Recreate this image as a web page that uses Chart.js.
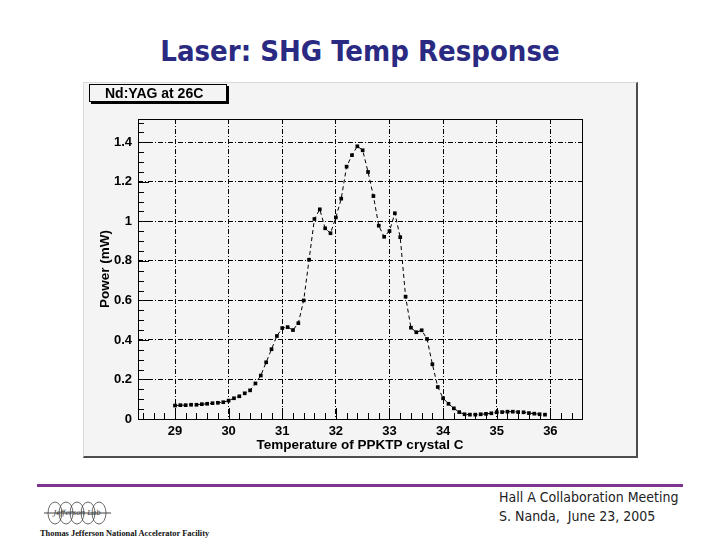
<!DOCTYPE html>
<html>
<head>
<meta charset="utf-8">
<script src="https://cdn.jsdelivr.net/npm/chart.js@4.4.0/dist/chart.umd.min.js"></script>
<style>
  body { margin: 0; width: 720px; height: 540px; background: #fff; position: relative; overflow: hidden; }
  #title { position: absolute; left: 0; top: 35px; width: 720px; text-align: center;
           font: bold 29px "DejaVu Sans Condensed", sans-serif; color: #2a2a82; line-height: 32px; }
  #pad { position: absolute; left: 83px; top: 82px; width: 552px; height: 373px; background: #f4f4f4;
         border-top: 1px solid #d9d9d9; border-left: 1px solid #d9d9d9;
         border-right: 2px solid #4d4d4d; border-bottom: 2px solid #4d4d4d; }
  #pad canvas { position: absolute; left: 0; top: 0; }
  #leg { position: absolute; left: 5px; top: 1px; width: 138px; height: 18px; box-sizing: border-box;
         border: 1px solid #000; box-shadow: 2px 2px 0 #000; background: #f4f4f4;
         font: bold 14px "Liberation Sans", Arial, sans-serif; line-height: 16px; padding-left: 15px; color: #000; }
  #rule { position: absolute; left: 37px; top: 484px; width: 646px; height: 3px; background: #7d3590; }
  #meet { position: absolute; left: 499px; top: 488px; font: 14px "DejaVu Sans Condensed", sans-serif;
          color: #222; line-height: 19px; }
  #lab { position: absolute; left: 40px; top: 529px; font: bold 8.4px "Liberation Serif", serif; color: #111; white-space: nowrap; }
  #logo { position: absolute; left: 40px; top: 500px; }
</style>
</head>
<body>
<div id="title">Laser: SHG Temp Response</div>
<div id="pad">
  <canvas id="chart" width="552" height="373"></canvas>
  <div id="leg">Nd:YAG at 26C</div>
</div>
<div id="rule"></div>
<svg id="logo" width="80" height="28">
  <line x1="4" y1="13" x2="71" y2="13" stroke="#444" stroke-width="1"/>
  <ellipse cx="15" cy="13" rx="7" ry="11" fill="none" stroke="#444" stroke-width="0.8"/>
  <ellipse cx="26" cy="13" rx="7" ry="11" fill="none" stroke="#444" stroke-width="0.8"/>
  <ellipse cx="37" cy="13" rx="7" ry="11" fill="none" stroke="#444" stroke-width="0.8"/>
  <ellipse cx="48" cy="13" rx="7" ry="11" fill="none" stroke="#444" stroke-width="0.8"/>
  <ellipse cx="59" cy="13" rx="7" ry="11" fill="none" stroke="#444" stroke-width="0.8"/>
  <text x="37" y="15" text-anchor="middle" font-family="DejaVu Serif" font-style="italic" font-size="7" fill="#333">Jefferson Lab</text>
</svg>
<div id="lab">Thomas Jefferson National Accelerator Facility</div>
<div id="meet">Hall A Collaboration Meeting<br>S. Nanda,&nbsp; June 23, 2005</div>

<script>
// crystal temperature (C) and SHG power (mW)
const temps = [
  29.0, 29.1, 29.2, 29.3, 29.4, 29.5, 29.6, 29.7, 29.8, 29.9,
  30.0, 30.1, 30.2, 30.3, 30.4, 30.5, 30.6, 30.7, 30.8, 30.9,
  31.0, 31.1, 31.2, 31.3, 31.4, 31.5, 31.6, 31.7, 31.8, 31.9,
  32.0, 32.1, 32.2, 32.3, 32.4, 32.5, 32.6, 32.7, 32.8, 32.9,
  33.0, 33.1, 33.2, 33.3, 33.4, 33.5, 33.6, 33.7, 33.8, 33.9,
  34.0, 34.1, 34.2, 34.3, 34.4, 34.5, 34.6, 34.7, 34.8, 34.9,
  35.0, 35.1, 35.2, 35.3, 35.4, 35.5, 35.6, 35.7, 35.8, 35.9
];
const power = [
  0.068, 0.070, 0.070, 0.072, 0.072, 0.075, 0.077, 0.080, 0.082, 0.085,
  0.093, 0.105, 0.115, 0.130, 0.145, 0.180, 0.220, 0.287, 0.353, 0.420,
  0.460, 0.465, 0.450, 0.485, 0.600, 0.806, 1.012, 1.061, 0.965, 0.940,
  1.020, 1.115, 1.277, 1.335, 1.380, 1.360, 1.250, 1.128, 0.978, 0.922,
  0.951, 1.041, 0.920, 0.619, 0.462, 0.439, 0.449, 0.405, 0.277, 0.162,
  0.105, 0.077, 0.054, 0.035, 0.024, 0.022, 0.022, 0.024, 0.026, 0.029,
  0.034, 0.035, 0.037, 0.037, 0.035, 0.034, 0.030, 0.027, 0.024, 0.022
];
const xTicks = [29, 30, 31, 32, 33, 34, 35, 36];
const yTicks = [0, 0.2, 0.4, 0.6, 0.8, 1, 1.2, 1.4];

const tickFont = { family: "'Liberation Sans', Arial, sans-serif", size: 13, weight: 'bold' };
const titleFont = { family: "'Liberation Sans', Arial, sans-serif", size: 13.5, weight: 'bold' };

// root style frame + inward tick marks
const rootFrame = {
  id: 'rootFrame',
  afterDraw(chart) {
    const { ctx, chartArea: a, scales: { x, y } } = chart;
    ctx.save();
    ctx.strokeStyle = '#000';
    ctx.lineWidth = 1;
    ctx.beginPath();
    for (let i = 0; i * 0.05 <= y.max; i++) {
      const py = Math.round(y.getPixelForValue(i * 0.05)) + 0.5;
      const len = i % 4 === 0 ? 11 : 6;
      ctx.moveTo(a.left, py);
      ctx.lineTo(a.left + len, py);
    }
    for (let i = Math.ceil(x.min * 5); i / 5 <= x.max; i++) {
      const px = Math.round(x.getPixelForValue(i / 5)) + 0.5;
      const len = i % 5 === 0 ? 11 : 6;
      ctx.moveTo(px, a.bottom);
      ctx.lineTo(px, a.bottom - len);
    }
    ctx.stroke();
    ctx.strokeRect(Math.round(a.left) + 0.5, Math.round(a.top) + 0.5,
                   Math.round(a.right - a.left), Math.round(a.bottom - a.top));
    ctx.restore();
  }
};

new Chart(document.getElementById('chart'), {
  type: 'line',
  data: {
    datasets: [{
      data: temps.map((t, i) => ({ x: t, y: power[i] })),
      borderColor: '#000',
      borderWidth: 1,
      borderDash: [4, 3],
      tension: 0,
      fill: false,
      pointStyle: 'rect',
      pointRadius: 2.6,
      pointBackgroundColor: '#000',
      pointBorderColor: '#000',
      pointBorderWidth: 0
    }]
  },
  options: {
    responsive: false,
    animation: false,
    layout: { padding: { top: 36, right: 54, left: 0, bottom: 0 } },
    plugins: { legend: { display: false }, tooltip: { enabled: false } },
    scales: {
      x: {
        type: 'linear',
        min: 28.31,
        max: 36.59,
        afterBuildTicks: s => { s.ticks = xTicks.map(v => ({ value: v })); },
        afterFit: s => { s.height = 37; },
        grid: { color: '#000', lineWidth: 1, drawTicks: false },
        border: { display: false, dash: [5, 2, 1, 2] },
        ticks: { color: '#000', font: tickFont, padding: 5, maxRotation: 0, autoSkip: false,
                 callback: v => String(v) },
        title: { display: true, text: 'Temperature of PPKTP crystal C', color: '#000', font: titleFont,
                 padding: { top: 0, bottom: 3 } }
      },
      y: {
        type: 'linear',
        min: 0,
        max: 1.518,
        afterBuildTicks: s => { s.ticks = yTicks.map(v => ({ value: v })); },
        afterFit: s => { s.width = 54; },
        grid: { color: '#000', lineWidth: 1, drawTicks: false },
        border: { display: false, dash: [5, 2, 1, 2] },
        ticks: { color: '#000', font: tickFont, padding: 6, autoSkip: false,
                 callback: v => String(Math.round(v * 10) / 10) },
        title: { display: true, text: 'Power (mW)', color: '#000', font: titleFont,
                 padding: { top: 13, bottom: 0 } }
      }
    }
  },
  plugins: [rootFrame]
});
</script>
</body>
</html>
